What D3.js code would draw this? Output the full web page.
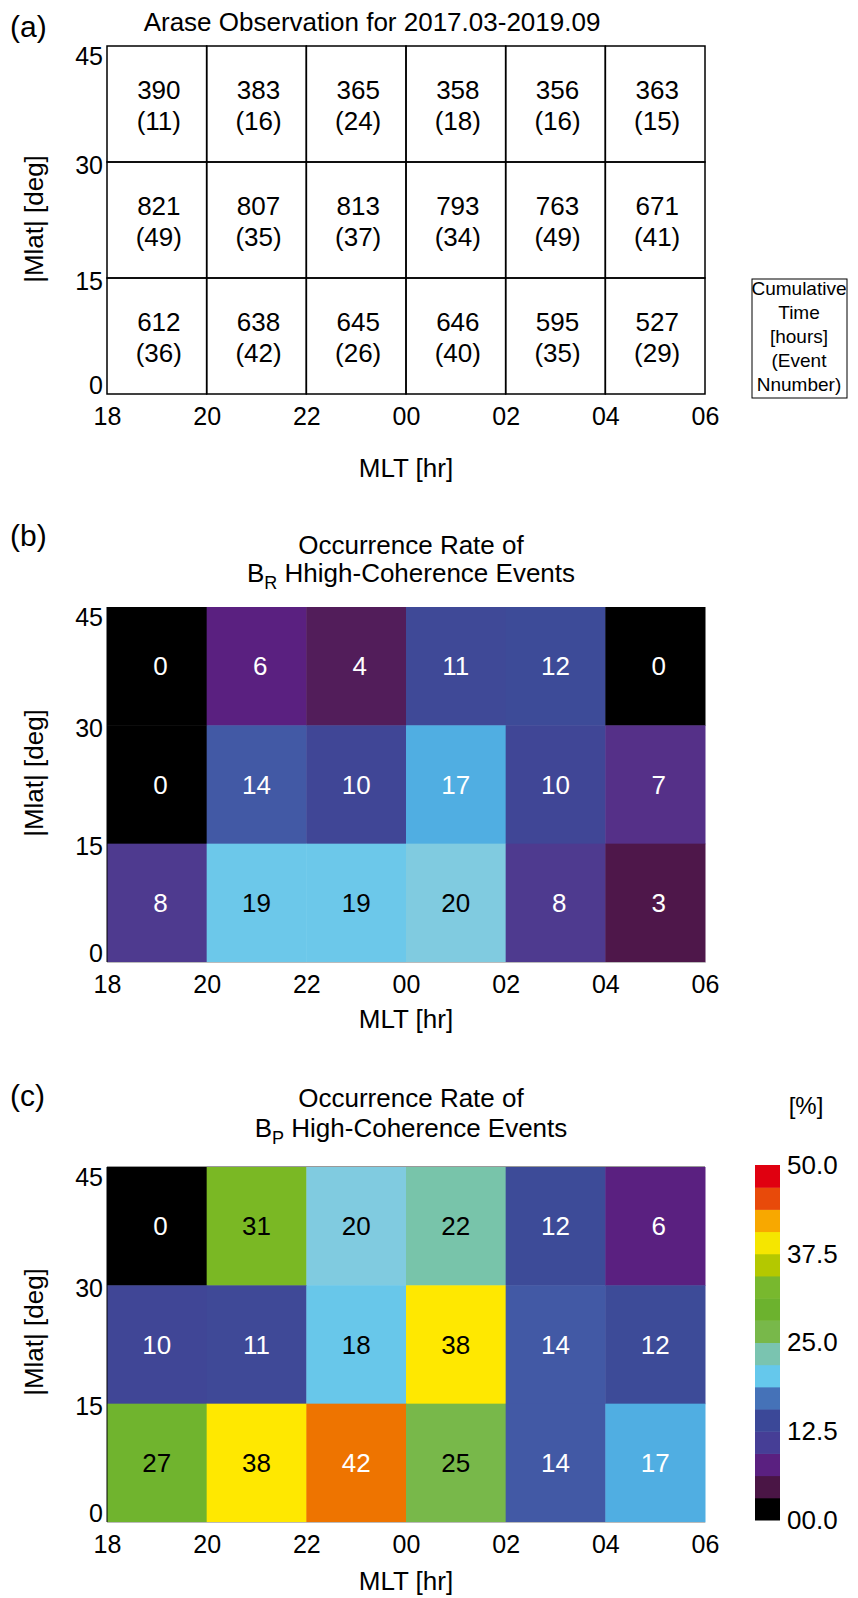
<!DOCTYPE html>
<html>
<head>
<meta charset="utf-8">
<script src="https://cdn.jsdelivr.net/npm/d3@7"></script>
<style>
body { margin: 0; background: #fff; }
svg { display: block; font-family: "Liberation Sans", Arial, Helvetica, sans-serif; }
</style>
</head>
<body>
<svg id="fig" width="858" height="1598"></svg>
<script>
// MLT bins run 18 -> 30 (i.e. 06 next day), 2 h wide
const mltEdges = [18, 20, 22, 24, 26, 28, 30];
const mltTicks = ["18", "20", "22", "00", "02", "04", "06"];
const latTicks = [0, 15, 30, 45];
// latitude bands, top row first
const latBands = [30, 15, 0];

// (a) cumulative time [hours] and event number
const cumHours = [
	[390, 383, 365, 358, 356, 363],
	[821, 807, 813, 793, 763, 671],
	[612, 638, 645, 646, 595, 527]
];
const eventNum = [
	[11, 16, 24, 18, 16, 15],
	[49, 35, 37, 34, 49, 41],
	[36, 42, 26, 40, 35, 29]
];

// (b) B_R and (c) B_P occurrence rate [%]
const rateBR = [
	[0, 6, 4, 11, 12, 0],
	[0, 14, 10, 17, 10, 7],
	[8, 19, 19, 20, 8, 3]
];
const rateBP = [
	[0, 31, 20, 22, 12, 6],
	[10, 11, 18, 38, 14, 12],
	[27, 38, 42, 25, 14, 17]
];

// colour bar: 16 steps between 0 and 50 %
const barColors = ["#000000", "#4a1545", "#5a2080", "#463e96", "#3b4898", "#4572b8", "#65c8ec", "#7ac4b0",
	"#78b84a", "#6cb22e", "#78b82e", "#b4c800", "#f5e600", "#f8a800", "#e84a0a", "#e00010"];
const barTicks = [0, 12.5, 25, 37.5, 50];
const barTickLabels = ["00.0", "12.5", "25.0", "37.5", "50.0"];

// cell colours
const cellStops = [0, 3, 4, 6, 7, 8, 10, 12, 14, 17, 18, 19, 20, 22, 25, 27, 31, 35, 38, 42, 46, 50];
const cellColors = ["#000000", "#4e174a", "#521d5a", "#5a2080", "#553088", "#4e3a8f", "#404696", "#3d4b98",
	"#4259a5", "#50aee2", "#68c7ea", "#6cc8ea", "#80cbe0", "#78c4aa", "#78b84a", "#70b42e", "#7ab824",
	"#b4c800", "#ffe800", "#ee7400", "#e8460a", "#e00010"];

const svg = d3.select('#fig');
const left = 107, right = 705;
const fs = 25;

const x = d3.scaleLinear().domain([18, 30]).range([left, right]);
const color = d3.scaleLinear().domain(cellStops).range(cellColors);

const panels = [
	{ key: 'a', top: 46, bottom: 394, label: '(a)', labelY: 37, xLabelY: 477, yLabelC: 219 },
	{ key: 'b', top: 607, bottom: 962, label: '(b)', labelY: 546, xLabelY: 1028, yLabelC: 773,
		title: ['Occurrence Rate of', 'R', ' Hhigh-Coherence Events'], titleY: [554, 582], data: rateBR },
	{ key: 'c', top: 1167, bottom: 1522, label: '(c)', labelY: 1106, xLabelY: 1590, yLabelC: 1332,
		title: ['Occurrence Rate of', 'P', ' High-Coherence Events'], titleY: [1107, 1137], data: rateBP }
];

function cells(rows) {
	const out = [];
	rows.forEach((row, j) => row.forEach((v, i) => out.push({ i, j, v })));
	return out;
}

function drawAxes(g, p, y) {
	const xAxis = d3.axisBottom(x).tickValues(mltEdges).tickSize(0).tickPadding(13)
		.tickFormat((d, i) => mltTicks[i]);
	g.append('g')
		.attr('transform', `translate(0,${p.bottom})`)
		.call(xAxis)
		.call(a => a.select('.domain').remove())
		.selectAll('text')
		.attr('font-size', fs)
		.attr('font-family', null);

	const yAxis = d3.axisLeft(y).tickValues(latTicks).tickSize(0).tickPadding(4);
	g.append('g')
		.attr('transform', `translate(${left},0)`)
		.call(yAxis)
		.call(a => a.select('.domain').remove())
		.selectAll('text')
		.attr('font-size', fs)
		.attr('font-family', null)
		.attr('dy', null)
		.attr('y', d => Math.max(Math.min(y(d) + 11, p.bottom - 1), p.top + 18) - y(d));

	g.append('text')
		.attr('x', (left + right) / 2)
		.attr('y', p.xLabelY)
		.attr('text-anchor', 'middle')
		.attr('font-size', 26)
		.text('MLT [hr]');

	g.append('text')
		.attr('transform', `translate(43,${p.yLabelC}) rotate(-90)`)
		.attr('text-anchor', 'middle')
		.attr('font-size', 26)
		.text('|Mlat| [deg]');

	g.append('text')
		.attr('x', 10)
		.attr('y', p.labelY)
		.attr('font-size', 30)
		.text(p.label);
}

panels.forEach(p => {
	const y = d3.scaleLinear().domain([0, 45]).range([p.bottom, p.top]);
	const g = svg.append('g').attr('id', 'panel-' + p.key);

	if (p.key === 'a') {
		const data = cells(cumHours);
		g.selectAll('rect.cell')
			.data(data)
			.enter()
			.append('rect')
			.attr('class', 'cell')
			.attr('x', d => x(mltEdges[d.i]))
			.attr('y', d => y(latBands[d.j] + 15))
			.attr('width', d => x(mltEdges[d.i + 1]) - x(mltEdges[d.i]))
			.attr('height', d => y(latBands[d.j]) - y(latBands[d.j] + 15))
			.attr('fill', 'none')
			.attr('stroke', '#000')
			.attr('stroke-width', 1.5);

		const cx = d => (x(mltEdges[d.i]) + x(mltEdges[d.i + 1])) / 2 + 2;
		const cy = d => (y(latBands[d.j]) + y(latBands[d.j] + 15)) / 2;
		g.selectAll('text.hours')
			.data(data)
			.enter()
			.append('text')
			.attr('class', 'hours')
			.attr('x', cx)
			.attr('y', d => cy(d) - 5)
			.attr('text-anchor', 'middle')
			.attr('font-size', 26)
			.text(d => d.v);
		g.selectAll('text.events')
			.data(cells(eventNum))
			.enter()
			.append('text')
			.attr('class', 'events')
			.attr('x', cx)
			.attr('y', d => cy(d) + 26)
			.attr('text-anchor', 'middle')
			.attr('font-size', 26)
			.text(d => `(${d.v})`);

		g.append('text')
			.attr('x', 372)
			.attr('y', 31)
			.attr('text-anchor', 'middle')
			.attr('font-size', 26)
			.text('Arase Observation for 2017.03-2019.09');

		// legend box
		const lg = g.append('g');
		lg.append('rect')
			.attr('x', 752).attr('y', 279)
			.attr('width', 95).attr('height', 119)
			.attr('fill', 'none')
			.attr('stroke', '#000')
			.attr('stroke-width', 1);
		lg.selectAll('text')
			.data(['Cumulative', 'Time', ' [hours]', '(Event', 'Nnumber)'])
			.enter()
			.append('text')
			.attr('x', 799)
			.attr('y', (d, i) => 295 + i * 24)
			.attr('text-anchor', 'middle')
			.attr('font-size', 19)
			.text(d => d);
	} else {
		const data = cells(p.data);
		g.selectAll('rect.cell')
			.data(data)
			.enter()
			.append('rect')
			.attr('class', 'cell')
			.attr('x', d => x(mltEdges[d.i]))
			.attr('y', d => y(latBands[d.j] + 15))
			.attr('width', d => x(mltEdges[d.i + 1]) - x(mltEdges[d.i]) + 0.5)
			.attr('height', d => y(latBands[d.j]) - y(latBands[d.j] + 15) + 0.5)
			.attr('fill', d => color(d.v));

		const fmt = d3.format('2d');
		g.selectAll('text.val')
			.data(data)
			.enter()
			.append('text')
			.attr('class', 'val')
			.attr('x', d => (x(mltEdges[d.i]) + x(mltEdges[d.i + 1])) / 2)
			.attr('y', d => (y(latBands[d.j]) + y(latBands[d.j] + 15)) / 2 + 9)
			.attr('text-anchor', 'middle')
			.attr('font-size', 26)
			.style('white-space', 'pre')
			.attr('fill', d => (d.v >= 18 && d.v <= 38) ? '#000' : '#fff')
			.text(d => fmt(d.v));

		// thin frame
		g.append('line')
			.attr('x1', left).attr('x2', left)
			.attr('y1', p.top).attr('y2', p.bottom)
			.attr('stroke', '#000').attr('stroke-width', 1);
		g.append('line')
			.attr('x1', left).attr('x2', right)
			.attr('y1', p.bottom + 0.5).attr('y2', p.bottom + 0.5)
			.attr('stroke', '#bbb').attr('stroke-width', 1);
		if (p.key === 'c') {
			g.append('line')
				.attr('x1', left).attr('x2', right)
				.attr('y1', p.top - 0.5).attr('y2', p.top - 0.5)
				.attr('stroke', '#999').attr('stroke-width', 1);
		}

		const t = g.append('text')
			.attr('x', 411)
			.attr('text-anchor', 'middle')
			.attr('font-size', 26);
		t.append('tspan').attr('x', 411).attr('y', p.titleY[0]).text(p.title[0]);
		const t2 = g.append('text')
			.attr('x', 411)
			.attr('y', p.titleY[1])
			.attr('text-anchor', 'middle')
			.attr('font-size', 26);
		t2.append('tspan').text('B');
		t2.append('tspan').attr('font-size', 18).attr('dy', 7).text(p.title[1]);
		t2.append('tspan').attr('dy', -7).text(p.title[2]);
	}

	drawAxes(g, p, y);
});

// colour bar for (c)
const cb = svg.append('g').attr('id', 'colorbar');
const cbY = d3.scaleLinear().domain([0, 50]).range([1520, 1165]);
const step = 50 / barColors.length;
cb.selectAll('rect')
	.data(barColors)
	.enter()
	.append('rect')
	.attr('x', 755)
	.attr('width', 25)
	.attr('y', (d, i) => cbY((i + 1) * step))
	.attr('height', (d, i) => cbY(i * step) - cbY((i + 1) * step) + 0.5)
	.attr('fill', d => d);

cb.append('g')
	.attr('transform', 'translate(780,0)')
	.call(d3.axisRight(cbY).tickValues(barTicks).tickSize(0).tickPadding(7)
		.tickFormat((d, i) => barTickLabels[i]))
	.call(a => a.select('.domain').remove())
	.selectAll('text')
	.attr('font-size', 26)
	.attr('font-family', null);

cb.append('text')
	.attr('x', 806)
	.attr('y', 1114)
	.attr('text-anchor', 'middle')
	.attr('font-size', 24)
	.text('[%]');
</script>
</body>
</html>
